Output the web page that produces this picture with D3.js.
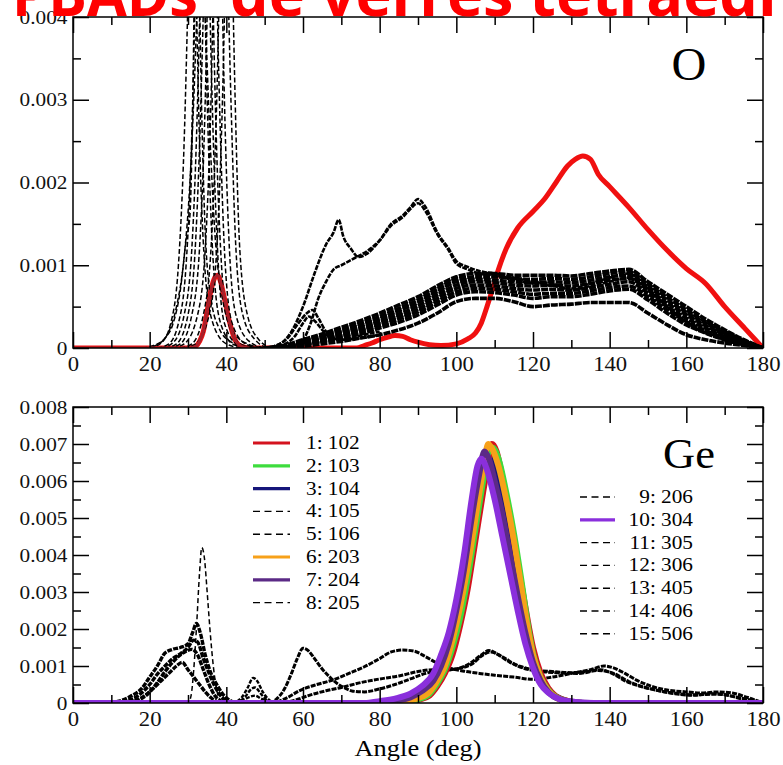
<!DOCTYPE html>
<html>
<head>
<meta charset="utf-8">
<script src="https://cdn.jsdelivr.net/npm/d3@7"></script>
<style>
  body { margin: 0; background: #fff; }
  svg { display: block; }
</style>
</head>
<body>
<svg id="chart" width="783" height="765"></svg>
<script>
// ---------- data: [angle (deg), probability] ----------
const titleHead = "PBADs";
const titleTail = "de verres tétraédriques";
const angleTicks = [0, 20, 40, 60, 80, 100, 120, 140, 160, 180];
const oTicks = [0, 0.001, 0.002, 0.003, 0.004];
const geTicks = [0, 0.001, 0.002, 0.003, 0.004, 0.005, 0.006, 0.007, 0.008];
const seriesNames = ["1: 102", "2: 103", "3: 104", "4: 105", "5: 106", "6: 203", "7: 204", "8: 205",
                     "9: 206", "10: 304", "11: 305", "12: 306", "13: 405", "14: 406", "15: 506"];

// O panel: solid red distribution
const oRed = [[0,0],[30,0],[32,0.00002],[33,0.00008],[34,0.0002],[35,0.00045],[36,0.0007],[37,0.00085],
  [37.8,0.00088],[38.5,0.0008],[39.5,0.0006],[40.5,0.00038],[41.5,0.0002],[42.5,0.00008],[44,0.00002],[46,0],
  [74,0],[76,0.00003],[78,0.00006],[80,0.0001],[82,0.00013],[84,0.00015],[86,0.00014],[88,0.0001],[90,0.00007],
  [93,0.00004],[96,0.00003],[100,0.00005],[103,0.00011],[105,0.00018],[106.5,0.0003],[108,0.0005],[109.5,0.00072],
  [111,0.00095],[113,0.0012],[116,0.00145],[120,0.00165],[123,0.0018],[126,0.002],[129,0.0022],[131,0.00228],
  [133,0.00232],[135,0.00228],[137,0.0021],[140,0.00195],[145,0.0017],[150,0.00143],[155,0.00118],[160,0.00096],
  [165,0.00078],[170,0.0005],[175,0.00025],[178,0.0001],[180,0]];

// O panel: dashed curves, sharp low-angle peaks
const oDashedPeaks = [
  [[20,0],[23,0.00006],[25.5,0.0003],[27.5,0.001],[29,0.0025],[30,0.0042],[31,0.0058],[32,0.0045],[33,0.0025],[34.5,0.0009],[36.5,0.0003],[40,0.00005],[44,0]],
  [[18,0],[21,0.00003],[24,0.00012],[26,0.00028],[28,0.0007],[29.5,0.0013],[30.5,0.0016],[31.2,0.0028],[32,0.0052],[32.8,0.0046],[33.6,0.0028],[34.5,0.0014],[36,0.0006],[38,0.00025],[41,0.00008],[45,0.00002],[50,0]],
  [[22,0],[25,0.00005],[27.5,0.0003],[29.5,0.001],[31,0.0026],[32,0.0045],[33,0.0065],[34,0.005],[35,0.003],[36.5,0.0011],[38.5,0.0003],[42,0.00004],[46,0]],
  [[19,0],[22,0.00004],[25,0.0002],[27,0.0005],[29,0.0011],[30.5,0.002],[31.5,0.003],[32.5,0.0042],[33.5,0.0048],[34.5,0.004],[35.5,0.0028],[37,0.0014],[39,0.0006],[42,0.00018],[46,0.00004],[50,0]],
  [[23,0],[26,0.00006],[29,0.0004],[31,0.0012],[32.5,0.003],[33.5,0.005],[34.3,0.0072],[35.2,0.0052],[36.3,0.003],[37.8,0.0011],[39.5,0.0003],[43,0.00004],[47,0]],
  [[24,0],[27,0.00005],[30,0.0004],[32,0.0013],[33.5,0.0032],[34.5,0.0052],[35.2,0.0075],[36,0.0055],[37,0.0032],[38.5,0.0012],[40.5,0.0003],[44,0.00004],[48,0]],
  [[25,0],[28,0.00005],[31,0.0004],[33,0.0012],[34.5,0.003],[35.5,0.0052],[36.3,0.0068],[37.2,0.005],[38.2,0.003],[39.6,0.0011],[41.5,0.0003],[45,0.00005],[49,0]],
  [[26,0],[29,0.00005],[32.5,0.0004],[34.5,0.0012],[36,0.003],[37,0.0052],[37.8,0.0064],[38.6,0.005],[39.5,0.003],[40.8,0.0012],[42.5,0.0004],[46,0.00008],[50,0]],
  [[28,0],[31,0.00005],[34,0.0004],[36,0.0012],[37.5,0.003],[38.5,0.005],[39.3,0.0062],[40.2,0.0048],[41.2,0.003],[42.5,0.0012],[44.3,0.0004],[47.5,0.0001],[51,0]],
  [[29,0],[32,0.00005],[35.5,0.0004],[37.5,0.0012],[39,0.003],[40,0.005],[40.8,0.006],[41.5,0.0047],[42.3,0.003],[43.5,0.0012],[45.5,0.0004],[48.5,0.0001],[52,0]]
];

// O panel: dashed curves above 50 deg with distinct features
const oDashedFeatures = [
  [[50,0],[54,0.00005],[57,0.0002],[60,0.0005],[63,0.0009],[66,0.00125],[68,0.0014],[69.3,0.00155],[70.5,0.00135],
   [72.5,0.0012],[74.5,0.0011],[77,0.00115],[80,0.0013],[83,0.0015],[86,0.0016],[88,0.0017],[90,0.0018],[92,0.0017],
   [95,0.0014],[98,0.0012],[100,0.00105],[103,0.00098],[106,0.00093],[110,0.0009],[115,0.00085],[120,0.0008],
   [125,0.00078],[130,0.0007],[135,0.00075],[140,0.0008],[145,0.00085],[150,0.0007],[155,0.0005],[160,0.0003],
   [165,0.00018],[170,0.0001],[175,0.00004],[180,0]],
  [[52,0],[57,0.00003],[60,0.0001],[62,0.0003],[64,0.0006],[66,0.0008],[68,0.00095],[70,0.001],[72,0.00105],
   [74,0.0011],[77,0.00118],[80,0.0013],[83,0.00148],[86,0.00158],[88,0.00168],[90,0.00175],[92,0.00165],
   [95,0.00138],[98,0.00118],[100,0.00102],[103,0.00095],[106,0.0009],[110,0.00088],[115,0.00082],[120,0.00078],
   [125,0.00075],[130,0.00072],[135,0.00078],[140,0.00085],[145,0.0009],[150,0.00072],[155,0.0005],[160,0.00032],
   [165,0.0002],[170,0.0001],[175,0.00004],[180,0]],
  [[50,0],[53,0.00003],[56,0.00012],[58.5,0.00028],[61,0.00042],[62.5,0.00046],[64,0.00036],[66,0.0002],
   [68,0.00012],[70,0.0001],[75,0.00015],[80,0.0002]],
  [[52,0],[55,0.00004],[58,0.00015],[60,0.0003],[61.5,0.00038],[63,0.00033],[65,0.00022],[67,0.00013],
   [70,0.0001],[75,0.00012],[80,0.00016]]
];

// O panel: broad band of dashed curves, sampled on a shared angle grid
const oBandAngles = [50,55,60,65,70,75,80,85,90,95,100,105,110,115,120,125,130,135,140,145,150,155,160,165,170,175,180];
const oBandValues = [
  [0,0.00003,0.0001,0.00017,0.00025,0.00033,0.00042,0.00052,0.00062,0.00075,0.00086,0.0009,0.0009,0.00088,0.00088,0.00088,0.00087,0.0009,0.00093,0.00095,0.0008,0.00065,0.0005,0.00035,0.00022,0.0001,0],
  [0,0.00002,0.00008,0.00015,0.00022,0.0003,0.00038,0.00048,0.00058,0.00071,0.00083,0.00086,0.00086,0.00084,0.00083,0.00084,0.00083,0.00086,0.0009,0.00092,0.00077,0.00061,0.00046,0.00032,0.0002,0.00009,0],
  [0,0.00002,0.00007,0.00013,0.0002,0.00027,0.00035,0.00045,0.00055,0.00068,0.0008,0.00083,0.00082,0.0008,0.00079,0.0008,0.00079,0.00082,0.00086,0.00088,0.00074,0.00058,0.00043,0.0003,0.00018,0.00008,0],
  [0,0.00001,0.00006,0.00011,0.00018,0.00024,0.00032,0.00041,0.00051,0.00064,0.00076,0.0008,0.00079,0.00076,0.00075,0.00076,0.00075,0.00078,0.00082,0.00084,0.0007,0.00054,0.0004,0.00027,0.00016,0.00007,0],
  [0,0.00001,0.00005,0.0001,0.00016,0.00022,0.0003,0.00038,0.00047,0.0006,0.00072,0.00076,0.00075,0.00072,0.0007,0.00071,0.0007,0.00073,0.00077,0.0008,0.00066,0.0005,0.00036,0.00024,0.00014,0.00006,0],
  [0,0.00001,0.00004,0.00009,0.00014,0.0002,0.00027,0.00035,0.00044,0.00056,0.00068,0.00072,0.00071,0.00068,0.00065,0.00066,0.00066,0.00069,0.00073,0.00075,0.00062,0.00046,0.00032,0.00021,0.00012,0.00005,0],
  [0,0.00001,0.00004,0.00008,0.00012,0.00017,0.00024,0.00031,0.0004,0.00052,0.00064,0.00068,0.00067,0.00064,0.0006,0.00062,0.00062,0.00065,0.00069,0.00071,0.00058,0.00042,0.00028,0.00018,0.0001,0.00004,0],
  [0,0,0.00002,0.00005,0.00008,0.00012,0.00016,0.00022,0.0003,0.00042,0.00056,0.0006,0.0006,0.00056,0.0005,0.00052,0.00053,0.00055,0.00055,0.00055,0.00042,0.00028,0.00016,0.0001,0.00006,0.00003,0]
];

// Ge panel: solid series (tetrahedral peak)
const ge102 = [[0,0],[82,0],[86,0.00002],[90,0.00008],[93,0.0002],[95,0.00045],[97,0.0008],[99,0.0013],[101,0.0021],[103,0.0031],[105,0.0044],[107,0.0057],[108.5,0.0066],[109.3,0.007],[110.5,0.0068],[112,0.0061],[114,0.005],[116,0.0038],[118,0.0026],[120,0.0015],[122,0.0008],[124,0.0004],[126,0.00018],[129,0.00006],[133,0],[180,0]];
const ge103 = [[0,0],[82,0],[86,0.00003],[90,0.0001],[93,0.00025],[95,0.00052],[97,0.0009],[99,0.0015],[101,0.0023],[103,0.0034],[105,0.0047],[107,0.006],[108.5,0.0068],[109.5,0.0069],[111,0.0066],[113,0.0057],[115,0.0046],[117,0.0033],[119,0.0019],[120,0.00135],[122,0.0007],[124,0.00035],[126,0.00016],[129,0.00005],[133,0],[180,0]];
const ge104 = [[0,0],[82,0],[86,0.00004],[90,0.00014],[93,0.00032],[95,0.00062],[97,0.0011],[99,0.0018],[101,0.0027],[103,0.0038],[105,0.0051],[107,0.0062],[108.2,0.0067],[109.5,0.0065],[111,0.006],[113,0.0051],[115,0.004],[117,0.0028],[119,0.0017],[121,0.00095],[123,0.0005],[125,0.00025],[128,0.00008],[132,0],[180,0]];
const ge203 = [[0,0],[82,0],[86,0.00004],[90,0.00013],[93,0.0003],[95,0.0006],[97,0.001],[99,0.0017],[101,0.0026],[103,0.0037],[105,0.005],[107,0.0063],[108.3,0.007],[109.2,0.0069],[111,0.0064],[113,0.0055],[115,0.0044],[117,0.0031],[119,0.0018],[120,0.0013],[122,0.00068],[124,0.00033],[126,0.00015],[129,0.00004],[133,0],[180,0]];
const ge204 = [[0,0],[80,0],[84,0.00006],[88,0.00015],[91,0.00032],[94,0.0006],[96,0.001],[98,0.0016],[100,0.0025],[102,0.0036],[104,0.005],[106,0.0062],[107.3,0.0068],[108.5,0.0066],[110,0.006],[112,0.0051],[114,0.004],[116,0.0029],[118,0.0019],[120,0.0011],[122,0.0006],[124,0.0003],[127,0.0001],[131,0.00002],[135,0],[180,0]];
const ge304 = [[0,0],[76,0],[80,0.00005],[84,0.00012],[88,0.00025],[91,0.00045],[94,0.0008],[96,0.0013],[98,0.0019],[100,0.0028],[102,0.004],[104,0.0055],[105.5,0.0064],[106.5,0.0066],[108,0.0063],[110,0.0055],[112,0.0045],[114,0.0035],[116,0.0025],[118,0.0016],[120,0.00095],[122,0.0005],[124,0.00028],[127,0.0001],[131,0.00003],[136,0],[180,0]];

// Ge panel: dashed curves
const geDashedLow = [
  [[0,0],[9,0],[12,0.00005],[15,0.00018],[18,0.0004],[20,0.0007],[22,0.001],[24,0.00135],[26,0.00145],[28,0.0015],[30,0.0016],[31.2,0.0019],[32.2,0.00215],[33.2,0.0019],[34.5,0.0013],[36,0.0008],[37.5,0.0005],[39,0.00025],[40.5,0.0001],[42,0.00002],[44,0]],
  [[0,0],[11,0],[14,0.00006],[17,0.0002],[20,0.0005],[22,0.00078],[24,0.001],[26,0.0012],[28,0.00133],[30,0.0015],[31.5,0.0017],[32.5,0.00165],[34,0.0012],[35.5,0.0008],[37,0.00045],[38.5,0.0002],[40,0.00006],[42,0]],
  [[0,0],[12,0],[15,0.00004],[18,0.00015],[21,0.0004],[23,0.0006],[25,0.0008],[27,0.001],[28.5,0.0011],[30,0.0009],[31.5,0.0007],[33,0.0005],[34.5,0.0003],[36,0.00014],[37.5,0.00004],[39,0]],
  [[0,0],[13,0],[16,0.00005],[19,0.0002],[22,0.00055],[24,0.00085],[26,0.0011],[28,0.0013],[29.5,0.0014],[31,0.00145],[32.5,0.0013],[34,0.0009],[35.5,0.0005],[37,0.0002],[38.5,0.00006],[40,0]]
];
const geDashedSharp = [[0,0],[30,0],[30.8,0.0002],[31.5,0.0009],[32.3,0.0022],[33,0.0035],[33.6,0.0042],[34.3,0.0039],[35,0.003],[35.8,0.0019],[36.6,0.001],[37.4,0.0004],[38.2,0.0001],[39,0]];
const geDashedNear47 = [
  [[40,0],[42,0.00002],[44,0.00015],[45.5,0.0004],[47,0.00068],[48,0.0006],[49.5,0.0003],[51,0.0001],[52.5,0]],
  [[41,0],[43,0.00003],[45,0.00018],[46.5,0.00038],[47.5,0.00042],[49,0.00025],[50.5,0.00008],[52,0]],
  [[41,0],[44,0.00006],[46,0.00016],[47.5,0.0002],[49,0.00012],[51,0.00003],[52,0]]
];
const geDashedHigh = [
  [[50,0],[53,0.00003],[56,0.00015],[59,0.00033],[63,0.00048],[68,0.00063],[72,0.0008],[76,0.00098],[80,0.0012],[83,0.00138],[86,0.00143],[89,0.0014],[92,0.00125],[95,0.00108],[98,0.00095],[102,0.00086],[106,0.0008],[110,0.00075],[115,0.0007],[120,0.00064],[125,0.0007],[130,0.0008],[135,0.0009],[138.5,0.001],[141,0.00095],[144,0.0008],[147,0.00062],[151,0.00045],[155,0.00035],[160,0.0003],[164,0.00027],[168,0.0003],[172,0.00027],[176,0.00015],[180,0]],
  [[55,0],[58,0.00008],[62,0.00022],[66,0.00033],[70,0.00042],[75,0.00055],[80,0.00065],[85,0.00073],[90,0.00085],[94,0.0009],[98,0.0009],[101,0.00095],[104,0.0011],[106.5,0.0013],[108.5,0.00142],[111,0.0013],[114,0.0011],[117,0.00098],[120,0.0009],[125,0.00085],[130,0.00082],[134,0.00085],[137.5,0.0009],[141,0.00078],[144,0.0006],[148,0.00045],[152,0.00035],[157,0.00025],[162,0.00021],[166,0.00025],[170,0.00022],[175,0.0001],[180,0]],
  [[48,0],[51,0],[53,0.0001],[55,0.00035],[57,0.0008],[58.5,0.0012],[60,0.00148],[61.5,0.0014],[63,0.0012],[65,0.00092],[67,0.0007],[69,0.00052],[71,0.0004],[73,0.00032],[76,0.0003],[80,0.00038],[84,0.0005],[88,0.00065],[92,0.0008],[96,0.00088],[100,0.00092],[104,0.00105],[107,0.0013],[109,0.00138],[112,0.00125],[116,0.001],[120,0.00088],[126,0.00082],[132,0.0008],[137,0.00088],[141,0.0008],[145,0.00058],[150,0.0004],[156,0.00028],[162,0.00022],[168,0.00024],[174,0.00014],[180,0]]
];

// ---------- styles ----------
const serif = "'Liberation Serif', 'Times New Roman', serif";
const seriesStyle = {
  "1: 102":  { color: "#d4121e", dash: null },
  "2: 103":  { color: "#3ddc3d", dash: null },
  "3: 104":  { color: "#16167a", dash: null },
  "4: 105":  { color: "#000", dash: "5,3" },
  "5: 106":  { color: "#000", dash: "5,3" },
  "6: 203":  { color: "#f7a11a", dash: null },
  "7: 204":  { color: "#5b2a86", dash: null },
  "8: 205":  { color: "#000", dash: "5,3" },
  "9: 206":  { color: "#000", dash: "5,3" },
  "10: 304": { color: "#8a2fdc", dash: null },
  "11: 305": { color: "#000", dash: "5,3" },
  "12: 306": { color: "#000", dash: "5,3" },
  "13: 405": { color: "#000", dash: "5,3" },
  "14: 406": { color: "#000", dash: "5,3" },
  "15: 506": { color: "#000", dash: "5,3" }
};

// ---------- layout ----------
const svg = d3.select("#chart");
const X0 = 73, X1 = 763;
const oTop = 17, oBottom = 348;
const geTop = 407, geBottom = 703;

const x = d3.scaleLinear().domain([0, 180]).range([X0, X1]);
const yO = d3.scaleLinear().domain([0, 0.004]).range([oBottom, oTop]);
const yGe = d3.scaleLinear().domain([0, 0.008]).range([geBottom, geTop]);

const defs = svg.append("defs");
defs.append("clipPath").attr("id", "clipO").append("rect")
  .attr("x", X0).attr("y", oTop).attr("width", X1 - X0).attr("height", oBottom - oTop);
defs.append("clipPath").attr("id", "clipGe").append("rect")
  .attr("x", X0).attr("y", geTop).attr("width", X1 - X0).attr("height", geBottom - geTop);

function lineFor(y) {
  return d3.line().x(d => x(d[0])).y(d => y(d[1])).curve(d3.curveMonotoneX);
}
function drawCurve(g, y, pts, color, width, dash) {
  g.append("path").datum(pts)
    .attr("d", lineFor(y))
    .attr("fill", "none")
    .attr("stroke", color)
    .attr("stroke-width", width)
    .attr("stroke-linejoin", "round")
    .attr("stroke-dasharray", dash);
}

// ---------- O panel ----------
const gO = svg.append("g").attr("clip-path", "url(#clipO)");
drawCurve(gO, yO, oRed, "#f01010", 5, null);
oBandValues.forEach(vals => drawCurve(gO, yO, oBandAngles.map((a, i) => [a, vals[i]]), "#000", 3.6, "7,1"));
oDashedFeatures.forEach(pts => drawCurve(gO, yO, pts, "#000", 2.6, "5,1.2"));
oDashedPeaks.forEach(pts => drawCurve(gO, yO, pts, "#000", 1.5, "5,2.5"));
// red peak near 37 deg, kept above the dashed peaks
drawCurve(gO, yO, oRed.filter(d => d[0] <= 46), "#a8202a", 3, null);

// ---------- Ge panel ----------
const gGe = svg.append("g").attr("clip-path", "url(#clipGe)");
geDashedHigh.forEach(pts => drawCurve(gGe, yGe, pts, "#000", 3, "5,1.2"));
geDashedLow.forEach(pts => drawCurve(gGe, yGe, pts, "#000", 3.4, "5,1.2"));
geDashedNear47.forEach(pts => drawCurve(gGe, yGe, pts, "#000", 2.4, "4,1.5"));
drawCurve(gGe, yGe, geDashedSharp, "#000", 1.5, "5,3");
[["3: 104", ge104], ["1: 102", ge102], ["2: 103", ge103], ["6: 203", ge203], ["7: 204", ge204], ["10: 304", ge304]]
  .forEach(([name, pts]) => drawCurve(gGe, yGe, pts, seriesStyle[name].color, 6, null));

// ---------- axes ----------
function styleAxis(g, labelSize) {
  g.attr("font-family", null).attr("font-size", null);
  g.select(".domain").remove();
  g.selectAll(".tick line").attr("stroke", "#000").attr("stroke-width", 1.5);
  g.selectAll(".tick text")
    .style("font-family", serif).style("font-size", labelSize + "px").attr("fill", "#111");
}
const yFmt = d => d === 0 ? "0" : d3.format(".3f")(d);
const minorX = d3.range(10, 180, 20);

function panelAxes(y, top, bottom, ticks, minorY) {
  const major = 16, minor = 8;
  const b = svg.append("g").attr("transform", `translate(0,${bottom})`)
    .call(d3.axisBottom(x).tickValues(angleTicks).tickSize(-major).tickPadding(8).tickFormat(d3.format("d")));
  styleAxis(b, 21);
  b.selectAll(".tick text").attr("transform", "scale(1.08,1)");
  styleAxis(svg.append("g").attr("transform", `translate(0,${bottom})`)
    .call(d3.axisBottom(x).tickValues(minorX).tickSize(-minor).tickFormat("")), 20);
  styleAxis(svg.append("g").attr("transform", `translate(0,${top})`)
    .call(d3.axisTop(x).tickValues(angleTicks).tickSize(-major).tickFormat("")), 20);
  styleAxis(svg.append("g").attr("transform", `translate(0,${top})`)
    .call(d3.axisTop(x).tickValues(minorX).tickSize(-minor).tickFormat("")), 20);

  const l = svg.append("g").attr("transform", `translate(${X0},0)`)
    .call(d3.axisLeft(y).tickValues(ticks).tickSize(-major).tickPadding(5).tickFormat(yFmt));
  styleAxis(l, 19);
  l.selectAll(".tick text").attr("transform", "scale(1.12,1)");
  styleAxis(svg.append("g").attr("transform", `translate(${X0},0)`)
    .call(d3.axisLeft(y).tickValues(minorY).tickSize(-minor).tickFormat("")), 19);
  styleAxis(svg.append("g").attr("transform", `translate(${X1},0)`)
    .call(d3.axisRight(y).tickValues(ticks).tickSize(-major).tickFormat("")), 19);
  styleAxis(svg.append("g").attr("transform", `translate(${X1},0)`)
    .call(d3.axisRight(y).tickValues(minorY).tickSize(-minor).tickFormat("")), 19);

  svg.append("rect").attr("x", X0).attr("y", top).attr("width", X1 - X0).attr("height", bottom - top)
    .attr("fill", "none").attr("stroke", "#000").attr("stroke-width", 1.5);
}
panelAxes(yO, oTop, oBottom, oTicks, oTicks.slice(0, -1).map(v => v + 0.0005));
panelAxes(yGe, geTop, geBottom, geTicks, geTicks.slice(0, -1).map(v => v + 0.0005));

// ---------- labels ----------
function stretchedText(txt, px, py, size, anchor, sx) {
  return svg.append("text").text(txt)
    .attr("transform", `translate(${px},${py}) scale(${sx},1)`)
    .style("font-family", serif).style("font-size", size + "px")
    .attr("text-anchor", anchor).attr("fill", "#000");
}
stretchedText("O", 689, 80, 46, "middle", 1.05);
stretchedText("Ge", 689, 468, 42, "middle", 1.06);
stretchedText("Angle (deg)", 418, 756, 23, "middle", 1.15);

// ---------- legends ----------
function legend(names, lx0, lx1, tx, ty0, step, anchor) {
  names.forEach((name, i) => {
    const s = seriesStyle[name];
    const yy = ty0 + i * step;
    svg.append("line").attr("x1", lx0).attr("x2", lx1).attr("y1", yy).attr("y2", yy)
      .attr("stroke", s.color).attr("stroke-width", s.dash ? 1.4 : 3.2)
      .attr("stroke-dasharray", s.dash ? "7,4.5" : null);
    stretchedText(name, tx, yy + 6, 19, anchor, 1.12);
  });
}
legend(seriesNames.slice(0, 8), 253, 290, 306, 443, 22.8, "start");
legend(seriesNames.slice(8), 580, 615, 693, 497, 22.8, "end");

// ---------- title (runs off the top and right edges) ----------
const titleFont = "'Open Sans', 'Liberation Sans', sans-serif";
const titleBase = 16;
function titleText(txt, size) {
  return svg.append("text").text(txt)
    .style("font-family", titleFont).style("font-weight", 700).style("font-size", size + "px")
    .attr("fill", "#ff0000");
}
// font size chosen so that "de verres tétraéd" runs from x=230 to x=758
const probe = titleText("de verres tétraéd", 50);
const titleSize = 50 * (758 - 230) / probe.node().getComputedTextLength();
probe.remove();
titleText(titleTail, titleSize).attr("x", 230).attr("y", titleBase);
const head = titleText(titleHead, titleSize);
const headW = head.node().getComputedTextLength();
head.attr("transform", `translate(12,${titleBase}) scale(${186 / headW},1)`);
</script>
</body>
</html>
